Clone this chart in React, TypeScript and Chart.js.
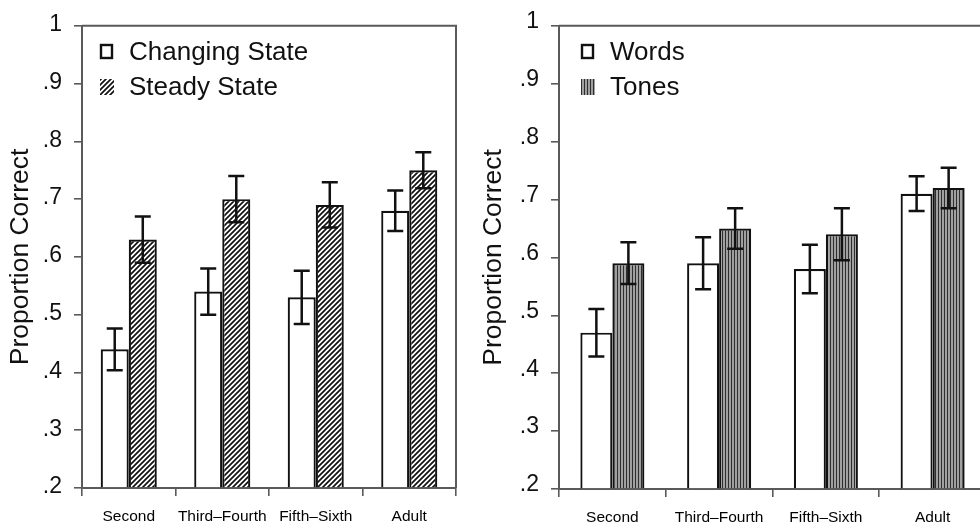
import React, { useEffect, useRef } from "react";
import { Chart, registerables } from "chart.js";

Chart.register(...registerables);

const categories = ["Second", "Third–Fourth", "Fifth–Sixth", "Adult"];
const yTickValues = [0.2, 0.3, 0.4, 0.5, 0.6, 0.7, 0.8, 0.9, 1];

const changingState = [0.44, 0.54, 0.53, 0.68];
const changingStateErr = [0.036, 0.04, 0.046, 0.035];
const steadyState = [0.63, 0.7, 0.69, 0.75];
const steadyStateErr = [0.04, 0.04, 0.039, 0.031];

const words = [0.47, 0.59, 0.58, 0.71];
const wordsErr = [0.041, 0.045, 0.042, 0.03];
const tones = [0.59, 0.65, 0.64, 0.72];
const tonesErr = [0.036, 0.035, 0.045, 0.035];

const FONT = "'Liberation Sans', Arial, Helvetica, sans-serif";
const INK = "#111";
const AXIS = "#5a5a5a";

function hatchPattern(): CanvasPattern | string {
  const c = document.createElement("canvas");
  const s = 5;
  c.width = s;
  c.height = s;
  const g = c.getContext("2d");
  if (!g) return "#fff";
  g.fillStyle = "#fff";
  g.fillRect(0, 0, s, s);
  g.strokeStyle = "#111";
  g.lineWidth = 1.7;
  g.beginPath();
  g.moveTo(-1, s + 1);
  g.lineTo(s + 1, -1);
  g.moveTo(-1, 1);
  g.lineTo(1, -1);
  g.moveTo(s - 1, s + 1);
  g.lineTo(s + 1, s - 1);
  g.stroke();
  return g.createPattern(c, "repeat") || "#fff";
}

function stripePattern(): CanvasPattern | string {
  const c = document.createElement("canvas");
  c.width = 3;
  c.height = 3;
  const g = c.getContext("2d");
  if (!g) return "#888";
  g.fillStyle = "#a0a0a0";
  g.fillRect(0, 0, 3, 3);
  g.fillStyle = "#2e2e2e";
  g.fillRect(0, 0, 1, 3);
  return g.createPattern(c, "repeat") || "#888";
}

function tickLabel(v: number | string) {
  const n = Math.round(Number(v) * 10);
  return n === 10 ? "1" : "." + n;
}

type PanelSpec = {
  series: { label: string; data: number[]; err: number[]; fill: CanvasPattern | string; kind: "box" | "hatch" | "stripe" }[];
  padTop: number;
  padRight: number;
  axisWidth: number;
  axisHeight: number;
  titlePad: number;
  labelOffset: number;
  legendX: number;
};

function buildConfig(spec: PanelSpec): any {
  const errorBars = {
    id: "errorBars",
    afterDatasetsDraw(chart: any) {
      const ctx = chart.ctx;
      const ys = chart.scales.y;
      ctx.save();
      ctx.strokeStyle = INK;
      ctx.lineWidth = 2.5;
      spec.series.forEach((s, i) => {
        const meta = chart.getDatasetMeta(i);
        meta.data.forEach((bar: any, j: number) => {
          const x = bar.x;
          const top = ys.getPixelForValue(s.data[j] + s.err[j]);
          const bot = ys.getPixelForValue(s.data[j] - s.err[j]);
          ctx.beginPath();
          ctx.moveTo(x, top);
          ctx.lineTo(x, bot);
          ctx.moveTo(x - 8, top);
          ctx.lineTo(x + 8, top);
          ctx.moveTo(x - 8, bot);
          ctx.lineTo(x + 8, bot);
          ctx.stroke();
        });
      });
      ctx.restore();
    },
  };

  const frame = {
    id: "frame",
    beforeDatasetsDraw(chart: any) {
      const { ctx, chartArea } = chart;
      ctx.save();
      ctx.strokeStyle = AXIS;
      ctx.lineWidth = 2;
      ctx.beginPath();
      ctx.moveTo(chartArea.left, chartArea.top);
      ctx.lineTo(chartArea.right, chartArea.top);
      ctx.lineTo(chartArea.right, chartArea.bottom);
      ctx.stroke();
      ctx.restore();
    },
  };

  const legend = {
    id: "insetLegend",
    afterDraw(chart: any) {
      const { ctx } = chart;
      ctx.save();
      spec.series.forEach((s, i) => {
        const cy = 52 + i * 35;
        const mx = spec.legendX;
        if (s.kind === "box") {
          ctx.fillStyle = "#fff";
          ctx.fillRect(mx, cy - 8, 13, 15);
          ctx.strokeStyle = INK;
          ctx.lineWidth = 2.4;
          ctx.strokeRect(mx + 1, cy - 7, 11, 13);
        } else {
          ctx.fillStyle = s.fill;
          ctx.fillRect(mx, cy - 8, 14, 16);
        }
        ctx.fillStyle = INK;
        ctx.font = `26px ${FONT}`;
        ctx.textAlign = "left";
        ctx.textBaseline = "middle";
        ctx.fillText(s.label, mx + 29, cy + 1);
      });
      ctx.restore();
    },
  };

  return {
    type: "bar",
    data: {
      labels: categories,
      datasets: spec.series.map((s) => ({
        label: s.label,
        data: s.data,
        backgroundColor: s.fill,
        borderColor: INK,
        borderWidth: 2.2,
        borderSkipped: "start",
        base: 0.2,
        barPercentage: 1,
        categoryPercentage: 0.6,
      })),
    },
    options: {
      animation: false,
      responsive: false,
      events: [],
      layout: { padding: { left: 0, top: spec.padTop, right: spec.padRight, bottom: 0 } },
      plugins: {
        legend: { display: false },
        tooltip: { enabled: false },
      },
      scales: {
        x: {
          offset: true,
          grid: { offset: true, drawOnChartArea: false, tickLength: 8, color: AXIS, lineWidth: 1.6 },
          border: { color: AXIS, width: 2 },
          ticks: {
            font: { size: 15.5, family: FONT },
            color: "#000",
            padding: 11,
            maxRotation: 0,
            autoSkip: false,
          },
          afterFit: (s: any) => {
            s.height = spec.axisHeight;
          },
        },
        y: {
          min: 0.2,
          max: 1,
          afterBuildTicks: (s: any) => {
            s.ticks = yTickValues.map((v) => ({ value: v }));
          },
          ticks: {
            callback: tickLabel,
            font: { size: 23, family: FONT },
            color: INK,
            padding: 12,
            labelOffset: spec.labelOffset,
          },
          grid: { drawOnChartArea: false, tickLength: 8, color: AXIS, lineWidth: 1.6 },
          border: { color: AXIS, width: 2 },
          title: {
            display: true,
            text: "Proportion Correct",
            font: { size: 26.5, family: FONT },
            color: INK,
            padding: { top: spec.titlePad, bottom: 0 },
          },
          afterFit: (s: any) => {
            s.width = spec.axisWidth;
          },
        },
      },
    },
    plugins: [frame, errorBars, legend],
  };
}

export default function App() {
  const leftRef = useRef<HTMLCanvasElement | null>(null);
  const rightRef = useRef<HTMLCanvasElement | null>(null);

  useEffect(() => {
    const hatch = hatchPattern();
    const stripe = stripePattern();
    const charts: Chart[] = [];
    if (leftRef.current) {
      charts.push(
        new Chart(
          leftRef.current,
          buildConfig({
            series: [
              { label: "Changing State", data: changingState, err: changingStateErr, fill: "#fff", kind: "box" },
              { label: "Steady State", data: steadyState, err: steadyStateErr, fill: hatch, kind: "hatch" },
            ],
            padTop: 20,
            padRight: 14,
            axisWidth: 82,
            axisHeight: 39,
            titlePad: 5,
            labelOffset: -1,
            legendX: 100,
          })
        )
      );
    }
    if (rightRef.current) {
      charts.push(
        new Chart(
          rightRef.current,
          buildConfig({
            series: [
              { label: "Words", data: words, err: wordsErr, fill: "#fff", kind: "box" },
              { label: "Tones", data: tones, err: tonesErr, fill: stripe, kind: "stripe" },
            ],
            padTop: 24,
            padRight: 14,
            axisWidth: 89,
            axisHeight: 38,
            titlePad: 8,
            labelOffset: -4,
            legendX: 111,
          })
        )
      );
    }
    return () => charts.forEach((c) => c.destroy());
  }, []);

  return (
    <div
      style={{
        position: "absolute",
        left: 0,
        top: 0,
        width: 980,
        height: 527,
        overflow: "hidden",
        background: "#fff",
      }}
    >
      <canvas ref={leftRef} width={470} height={527} style={{ position: "absolute", left: 0, top: 0 }} />
      <canvas ref={rightRef} width={530} height={527} style={{ position: "absolute", left: 470, top: 0 }} />
    </div>
  );
}
